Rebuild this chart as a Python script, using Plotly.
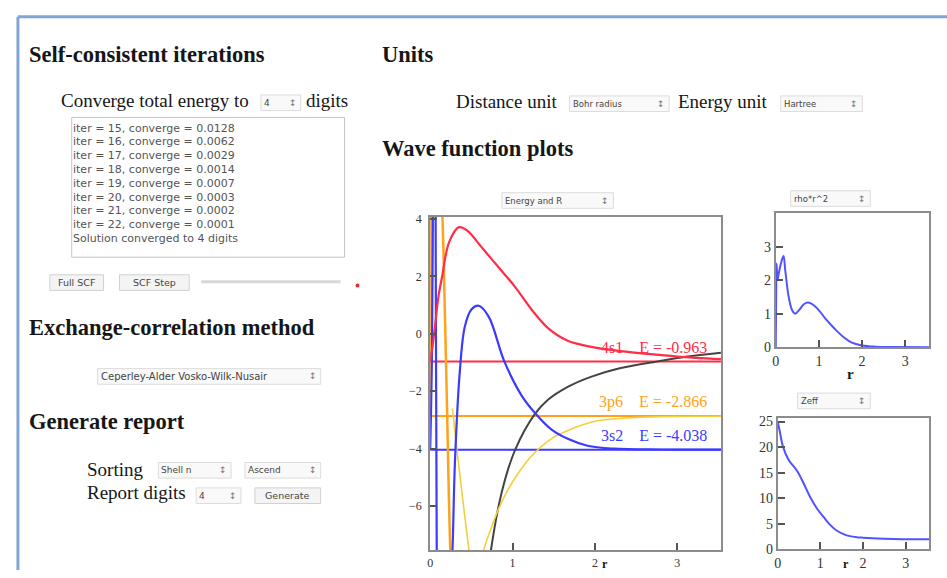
import plotly.graph_objects as go

W, H = 947, 578

# ---------------- SCF log ----------------
iterations = [15, 16, 17, 18, 19, 20, 21, 22]
converge = ["0.0128", "0.0062", "0.0029", "0.0014", "0.0007", "0.0003", "0.0002", "0.0001"]
digits = 4

# ---------------- orbital levels ----------------
levels = ["4s1", "3p6", "3s2"]
energies = [-0.963, -2.866, -4.038]
level_colors = ["#ff2d45", "#ffa21a", "#3b3bff"]

# energy-shifted radial functions, r in bohr
r_4s = [0, 0.03, 0.06, 0.1, 0.145, 0.23, 0.35, 0.45, 0.63, 0.83, 1.03, 1.23, 1.43, 1.67, 1.99, 2.31, 2.64, 3.0, 3.53]
y_4s = [-0.963, -0.4, 0.3, 1.3, 2.0, 3.2, 3.72, 3.6, 3.0, 2.32, 1.64, 0.85, 0.2, -0.24, -0.47, -0.6, -0.7, -0.79, -0.88]

r_3p_core = [0, 0.006, 0.012, 0.03, 0.08, 0.13, 0.16, 0.2, 0.245, 0.3]
y_3p_core = [-2.866, 1, 5, 11, 12, 6, 3, -2, -7.6, -11]

r_3p = [0.27, 0.3, 0.38, 0.47, 0.56, 0.65, 0.75, 0.83, 0.95, 1.07, 1.2, 1.35, 1.5, 1.67, 1.85, 2.03, 2.3, 2.64, 3.0, 3.53]
y_3p = [-2.6, -3.4, -5.4, -7.5, -9.3, -7.55, -6.7, -6.1, -5.4, -4.85, -4.35, -3.93, -3.6, -3.37, -3.17, -3.03, -2.95, -2.9, -2.88, -2.87]

r_3s = [0, 0.02, 0.035, 0.05, 0.065, 0.08, 0.1, 0.2, 0.27, 0.3, 0.36, 0.42, 0.5, 0.59, 0.71, 0.9, 1.11, 1.27, 1.47, 1.67, 1.91, 2.23, 2.8, 3.53]
y_3s = [-4.038, -1, 5, 9, 5, -8, -12, -12, -7.6, -4.5, -1.3, 0.25, 0.85, 0.98, 0.6, -0.96, -2.15, -2.75, -3.33, -3.66, -3.9, -4.0, -4.03, -4.038]

r_pot = [0.6, 0.74, 0.87, 1.03, 1.27, 1.43, 1.67, 1.95, 2.3, 2.76, 3.1, 3.53]
v_pot = [-11, -7.5, -5.5, -4.05, -2.8, -2.3, -1.85, -1.5, -1.2, -0.96, -0.8, -0.66]

# radial density
r_rho = [0, 0.01, 0.02, 0.04, 0.07, 0.12, 0.18, 0.22, 0.3, 0.38, 0.45, 0.55, 0.65, 0.75, 0.85, 1.0, 1.15, 1.27, 1.4, 1.58, 1.75, 2.0, 2.3, 2.7, 3.55]
rho = [0, 1.5, 2.5, 2.0, 2.2, 2.5, 2.72, 2.3, 1.5, 1.1, 1.0, 1.12, 1.28, 1.33, 1.28, 1.1, 0.85, 0.68, 0.5, 0.29, 0.14, 0.05, 0.015, 0.005, 0]

# effective nuclear charge
r_z = [0, 0.05, 0.12, 0.25, 0.46, 0.62, 0.77, 0.92, 1.08, 1.23, 1.38, 1.6, 1.85, 2.0, 2.5, 2.92, 3.55]
zeff = [25, 23, 20.2, 17.6, 15.3, 12.7, 10.1, 8.0, 6.3, 4.8, 3.7, 2.8, 2.4, 2.3, 2.1, 2.0, 2.0]


def px(x):
    return x / W


def py(y):
    return 1 - y / H


SERIF = "Liberation Serif"
UI = "DejaVu Sans"

fig = go.Figure()

line_kw = dict(shape="spline", smoothing=1.0)

# main panel: levels, wave functions and potential
for name, e, c in zip(levels, energies, level_colors):
    fig.add_trace(go.Scatter(x=[0, 3.53], y=[e, e], mode="lines",
                             line=dict(color=c, width=2), xaxis="x", yaxis="y",
                             hoverinfo="skip"))
fig.add_trace(go.Scatter(x=r_pot, y=v_pot, mode="lines",
                         line=dict(color="#444444", width=2, **line_kw), xaxis="x", yaxis="y"))
fig.add_trace(go.Scatter(x=r_3p, y=y_3p, mode="lines",
                         line=dict(color="#f3cf3a", width=1.6, **line_kw), xaxis="x", yaxis="y"))
fig.add_trace(go.Scatter(x=r_3p_core, y=y_3p_core, mode="lines",
                         line=dict(color=level_colors[1], width=2.5, **line_kw), xaxis="x", yaxis="y"))
fig.add_trace(go.Scatter(x=r_3s, y=y_3s, mode="lines",
                         line=dict(color=level_colors[2], width=2.2, **line_kw), xaxis="x", yaxis="y"))
fig.add_trace(go.Scatter(x=r_4s, y=y_4s, mode="lines",
                         line=dict(color=level_colors[0], width=2.2, **line_kw), xaxis="x", yaxis="y"))

# side panels
fig.add_trace(go.Scatter(x=r_rho, y=rho, mode="lines",
                         line=dict(color="#5252ff", width=2, **line_kw), xaxis="x2", yaxis="y2"))
fig.add_trace(go.Scatter(x=r_z, y=zeff, mode="lines",
                         line=dict(color="#5252ff", width=2, **line_kw), xaxis="x3", yaxis="y3"))

axis_common = dict(showline=True, mirror=True, linecolor="#8c8c8c", linewidth=2,
                   ticks="inside", ticklen=7, tickcolor="#555", tickwidth=1.5,
                   showgrid=False, zeroline=False, fixedrange=True)

fig.update_layout(
    width=W, height=H,
    margin=dict(l=0, r=0, t=0, b=0),
    paper_bgcolor="white", plot_bgcolor="white",
    showlegend=False,
    xaxis=dict(domain=[px(428), px(720)], range=[0, 3.53], tickvals=[0, 1, 2, 3],
               anchor="y", tickfont=dict(family=SERIF, size=12, color="#333"), **axis_common),
    yaxis=dict(domain=[py(558), py(217)], range=[-7.55, 4.07], tickvals=[-6, -4, -2, 0, 2, 4],
               anchor="x", ticklabelstandoff=4,
               tickfont=dict(family=SERIF, size=12, color="#333"), **axis_common),
    xaxis2=dict(domain=[px(775), px(929)], range=[0, 3.55], tickvals=[0, 1, 2, 3],
                anchor="y2", tickfont=dict(family=SERIF, size=14, color="#333"), **axis_common),
    yaxis2=dict(domain=[py(350), py(213)], range=[0, 4.0], tickvals=[0, 1, 2, 3],
                anchor="x2", tickfont=dict(family=SERIF, size=14, color="#333"), **axis_common),
    xaxis3=dict(domain=[px(777), px(929)], range=[0, 3.55], tickvals=[0, 1, 2, 3],
                anchor="y3", tickfont=dict(family=SERIF, size=14, color="#333"), **axis_common),
    yaxis3=dict(domain=[py(557), py(423)], range=[0, 25.6], tickvals=[0, 5, 10, 15, 20, 25],
                anchor="x3", tickfont=dict(family=SERIF, size=14, color="#333"), **axis_common),
)

ann = []
shapes = []


def text(x, y, s, size=19, bold=False, color="#161616", family=SERIF, anchor="left"):
    if anchor == "left":
        x -= 5  # annotation boxes carry a few pixels of padding
    ann.append(dict(xref="paper", yref="paper", x=px(x), y=py(y), text=f"<b>{s}</b>" if bold else s,
                    showarrow=False, xanchor=anchor, yanchor="middle",
                    font=dict(family=family, size=size, color=color)))


def box(x0, y0, x1, y1, line="#cfcfcf", fill="rgba(0,0,0,0)", width=1):
    shapes.append(dict(type="rect", xref="paper", yref="paper", x0=px(x0), x1=px(x1),
                       y0=py(y1), y1=py(y0), line=dict(color=line, width=width), fillcolor=fill,
                       layer="below"))


def dropdown(x0, x1, yc, label, size=9):
    box(x0, yc - 8, x1, yc + 8, line="#dcdcdc", fill="#f9f9f9")
    text(x0 + 6, yc, label, size=size, family=UI, color="#444")
    text(x1 - 8, yc, "↕", size=9, family=UI, color="#777", anchor="center")


def button(x0, x1, yc, label):
    box(x0, yc - 8, x1, yc + 8, line="#d0d0d0", fill="#f4f4f4")
    text((x0 + x1) / 2, yc, label, size=9.5, family=UI, color="#444", anchor="center")


# page frame
shapes.append(dict(type="line", xref="paper", yref="paper", x0=px(14), x1=1, y0=py(12), y1=py(12),
                   line=dict(color="#82a4d6", width=3)))
shapes.append(dict(type="line", xref="paper", yref="paper", x0=px(14), x1=px(14), y0=py(12), y1=0,
                   line=dict(color="#82a4d6", width=3)))

HEAD = 22.5

# left column
text(28, 51, "Self-consistent iterations", size=HEAD, bold=True)
text(60, 98, "Converge total energy to", size=19)
dropdown(258, 298, 100, str(digits))
text(306, 98, "digits", size=19)

box(68, 115, 342, 258, line="#c4c4c4", fill="white")
for i, (it, cv) in enumerate(zip(iterations, converge)):
    text(72, 126 + 14.1 * i, f"iter = {it}, converge = {cv}", size=11, family=UI, color="#555")
text(72, 126 + 14.1 * len(iterations), f"Solution converged to {digits} digits", size=11,
     family=UI, color="#555")

button(46, 100, 284, "Full SCF")
button(116, 186, 284, "SCF Step")
shapes.append(dict(type="line", xref="paper", yref="paper", x0=px(198), x1=px(338), y0=py(283),
                   y1=py(283), line=dict(color="#d8d8d8", width=3)))
shapes.append(dict(type="circle", xref="paper", yref="paper", x0=px(353), x1=px(357), y0=py(289),
                   y1=py(285), line=dict(width=0), fillcolor="#e03030"))

text(28, 330, "Exchange-correlation method", size=HEAD, bold=True)
dropdown(94, 318, 380, "Ceperley-Alder Vosko-Wilk-Nusair", size=10)

text(28, 426, "Generate report", size=HEAD, bold=True)
text(86, 475, "Sorting", size=19)
dropdown(155, 228, 476, "Shell n")
dropdown(242, 318, 476, "Ascend")
text(86, 499, "Report digits", size=19)
dropdown(193, 238, 502, str(digits))
button(252, 318, 502, "Generate")

# right column
text(383, 51, "Units", size=HEAD, bold=True)
text(457, 99, "Distance unit", size=19)
dropdown(568, 668, 101, "Bohr radius", size=8.5)
text(680, 99, "Energy unit", size=19)
dropdown(780, 862, 101, "Hartree", size=8.5)
text(383, 147, "Wave function plots", size=HEAD, bold=True)

dropdown(500, 612, 200, "Energy and R", size=8.5)
dropdown(790, 870, 198, "rho*r^2", size=8.5)
dropdown(797, 870, 405, "Zeff", size=8.5)

# level labels, placed just above each energy line
for name, e, c in zip(levels, energies, level_colors):
    ann.append(dict(xref="x", yref="y", x=3.38, y=e, yshift=14, xanchor="right", yanchor="middle",
                    text=f"{name}&nbsp;&nbsp;&nbsp;&nbsp;E = {e:.3f}", showarrow=False,
                    font=dict(family=SERIF, size=16, color=c)))

# axis titles
text(604, 572, "r", size=12, bold=True, anchor="center")
text(850, 377, "r", size=15, bold=True, anchor="center")
text(846, 572, "r", size=12, bold=True, anchor="center")

fig.update_layout(annotations=ann, shapes=shapes)
fig.write_html("out.html")
